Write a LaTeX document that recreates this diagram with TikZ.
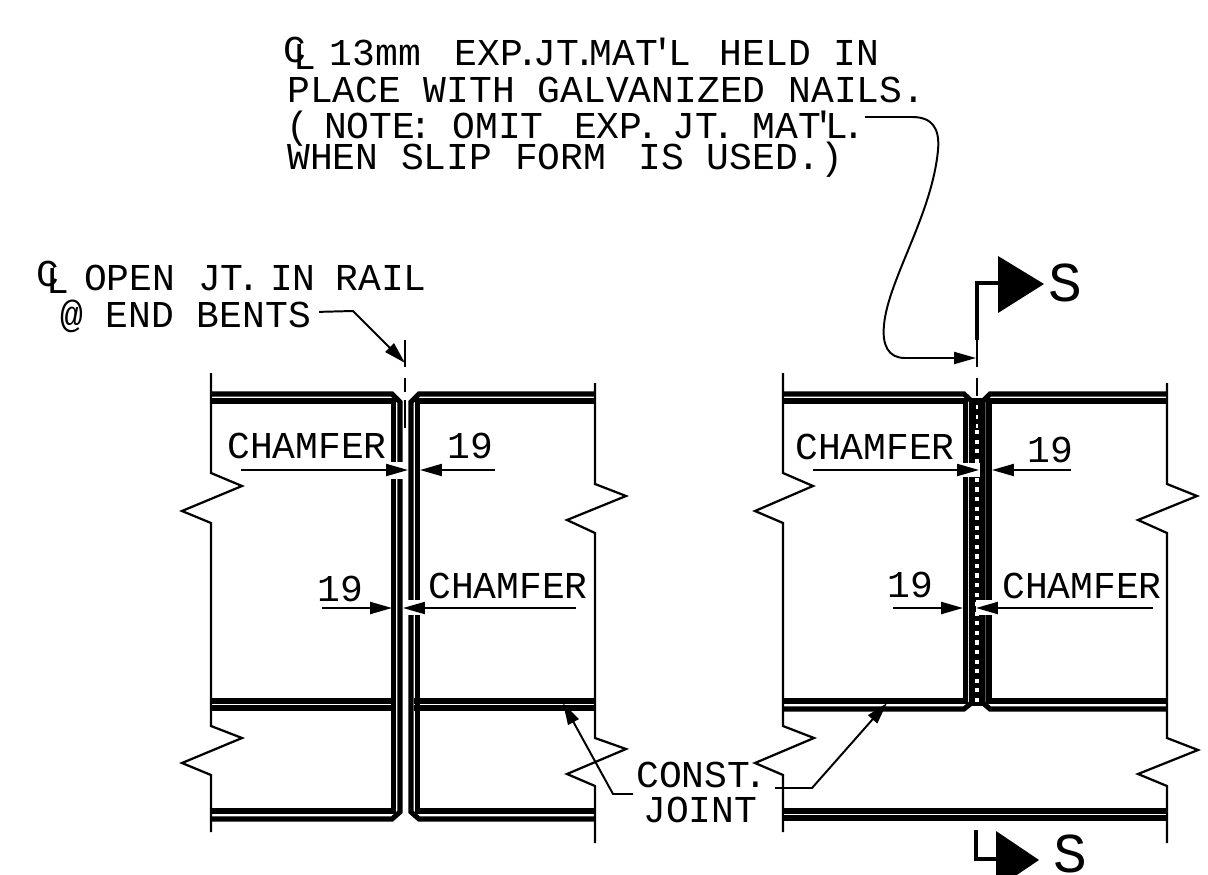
\documentclass[tikz,border=0pt]{standalone}
\usepackage{fontspec}
\usetikzlibrary{arrows.meta}
\newfontfamily\cadfont{Liberation Mono}
\newcommand{\nc}[1]{\kern-.16em#1\kern-.16em\relax}
\newcommand{\clsym}{\makebox[0pt][l]{\raisebox{.08em}{C}}\hspace{.26em}\raisebox{-.09em}{L}}
\tikzset{
	rail/.style={line width=3.6pt,line join=miter},
	edgeln/.style={line width=1.6pt,line join=miter},
	clln/.style={line width=1.4pt},
	dimarrow/.style={line width=1.4pt,-{Triangle[length=15.5pt,width=8.5pt]}},
	cadtext/.style={font=\cadfont\fontsize{27}{30}\selectfont,inner sep=0pt,anchor=base west},
	bigtext/.style={font=\cadfont\fontsize{40}{44}\selectfont,inner sep=0pt,anchor=base west}
}
\begin{document}
\begin{tikzpicture}[x=0.025cm,y=-0.025cm]
	\useasboundingbox (0,0) rectangle (1208,874);

	%left panel edges
	\draw[edgeln] (211,373)--(211,473)--(242,486)--(182,511)--(211,523)--(211,726)--(242,738)--(182,763)--(211,775)--(211,832);
	\draw[edgeln] (595,383)--(595,484)--(626,496)--(567,520)--(595,533)--(595,738)--(626,749)--(567,774)--(595,786)--(595,843);

	%left panel rails
	\draw[rail] (211,394)--(392,394)--(400,402)--(400,812)--(392,819)--(211,819);
	\draw[rail] (211,401)--(393.5,401)--(393.5,811)--(211,811);
	\draw[rail] (595,394)--(419,394)--(411,402)--(411,812)--(419,819)--(595,819);
	\draw[rail] (595,401)--(417.5,401)--(417.5,811)--(595,811);
	\draw[rail] (211,701)--(396,701);
	\draw[rail] (211,708)--(396,708);
	\draw[rail] (595,701)--(414,701);
	\draw[rail] (595,708)--(414,708);

	%left panel centerline
	\draw[clln] (405,340)--(405,367);
	\draw[clln] (405,378)--(405,392);
	\draw[clln] (405,400)--(405,428);

	%left panel dimension breaks
	\fill[white] (389,462) rectangle (404,479);
	\fill[white] (406,600) rectangle (423,615);

	%left panel dimensions
	\draw[dimarrow] (241,470)--(408,470);
	\draw[dimarrow] (495,470)--(420,470);
	\draw[dimarrow] (322,608)--(392,608);
	\draw[dimarrow] (576,608)--(403,608);

	%right panel edges
	\draw[edgeln] (783,373)--(783,473)--(813,486)--(755,511)--(783,523)--(783,726)--(814,738)--(755,763)--(783,775)--(783,832);
	\draw[edgeln] (1167,383)--(1167,484)--(1197,496)--(1138,520)--(1167,533)--(1167,738)--(1198,750)--(1138,774)--(1167,786)--(1167,843);

	%right panel rails
	\fill (971,398) rectangle (984,706);
	\draw[rail] (783,394)--(964,394)--(971.5,401)--(971.5,703)--(964,709)--(783,709);
	\draw[rail] (783,401)--(965.5,401)--(965.5,701)--(783,701);
	\draw[rail] (1167,394)--(990,394)--(983,401)--(983,703)--(990,709)--(1167,709);
	\draw[rail] (1167,401)--(989,401)--(989,701)--(1167,701);
	\draw[rail] (783,811)--(1167,811);
	\draw[rail] (783,818)--(1167,818);

	%joint material
	\draw[white,line width=1.2pt,dash pattern=on 3pt off 3.8pt] (977,405)--(977,430);
	\draw[white,line width=3.2pt,dash pattern=on 3pt off 3.8pt] (977,430)--(977,702);

	%right panel centerline
	\draw[clln] (977,340)--(977,367);
	\draw[clln] (977,378)--(977,396);

	%right panel dimension breaks
	\fill[white] (962,463) rectangle (980,477);
	\fill[white] (976,600) rectangle (993,615);

	%right panel dimensions
	\draw[dimarrow] (813,470)--(979,470);
	\draw[dimarrow] (1071,470)--(992,470);
	\draw[dimarrow] (893,608)--(963,608);
	\draw[dimarrow] (1153,608)--(976,608);

	%section marks
	\draw[rail,line width=2.6pt] (977,340)--(977,283)--(1000,283);
	\fill (998,256)--(1044,284)--(998,313)--cycle;
	\draw[rail,line width=2.6pt] (976,830)--(976,859)--(998,859);
	\fill (996,831)--(1039,860)--(996,889)--cycle;
	\node[bigtext] (secttop) at (1048,301) {S};
	\node[bigtext] (sectbot) at (1053,872) {S};

	%note
	\node[cadtext] (noteone) at (283,66) {\clsym\hspace{.37em}13mm\hspace{.88em}EXP\nc{.}JT\nc{.}MAT\nc{'}L\hspace{.75em}HELD IN};
	\node[cadtext] (notetwo) at (287,102) {PLACE WITH GALVANIZED NAILS.};
	\node[cadtext] (notethree) at (286,138) {(\hspace{.4em}NOTE\nc{:}\hspace{.7em}OMIT\hspace{.8em}EXP\nc{.}\hspace{.52em}JT\nc{.}\hspace{.63em}MAT\hspace{-.08em}\nc{'}\hspace{-.08em}L\nc{.}};
	\node[cadtext] (notefour) at (287,169) {WHEN SLIP FORM\hspace{.85em}IS USED.)};

	%note leader
	\coordinate (jointtip) at (976,358);
	\draw[dimarrow] (865,117)--(912,117) .. controls (932,117) and (940,128) .. (938,150) .. controls (932,215) and (888,280) .. (884,325) .. controls (882,345) and (888,358) .. (905,358)--(jointtip);

	%rail label
	\node[cadtext] (railone) at (36,290) {\clsym\hspace{.4em}OPEN JT\nc{.}\hspace{.42em}IN\hspace{.52em}RAIL};
	\node[cadtext] (railtwo) at (60,327) {@ END BENTS};
	\coordinate (railtip) at (405,363);
	\draw[dimarrow] ([shift={(8,-4)}]railtwo.east)--(353,311)--(railtip);

	%dimension labels, left panel
	\node[cadtext] (chamfera) at (227,458) {CHAMFER};
	\node[cadtext] (ninea) at (447,458) {19};
	\node[cadtext] (nineb) at (317,601) {19};
	\node[cadtext] (chamferb) at (428,598) {CHAMFER};

	%dimension labels, right panel
	\node[cadtext] (chamferc) at (795,459) {CHAMFER};
	\node[cadtext] (ninec) at (1027,462) {19};
	\node[cadtext] (nined) at (887,597) {19};
	\node[cadtext] (chamferd) at (1002,598) {CHAMFER};

	%joint label
	\node[cadtext] (constlbl) at (636,787) {CONST\nc{.}};
	\node[cadtext] (jointlbl) at (643,822) {JOINT};
	\coordinate (jointa) at (563,703);
	\coordinate (jointb) at (887,703);
	\draw[dimarrow] (633,794)--(613,794)--(jointa);
	\draw[dimarrow] (775,788)--(812,788)--(jointb);
\end{tikzpicture}
\end{document}
